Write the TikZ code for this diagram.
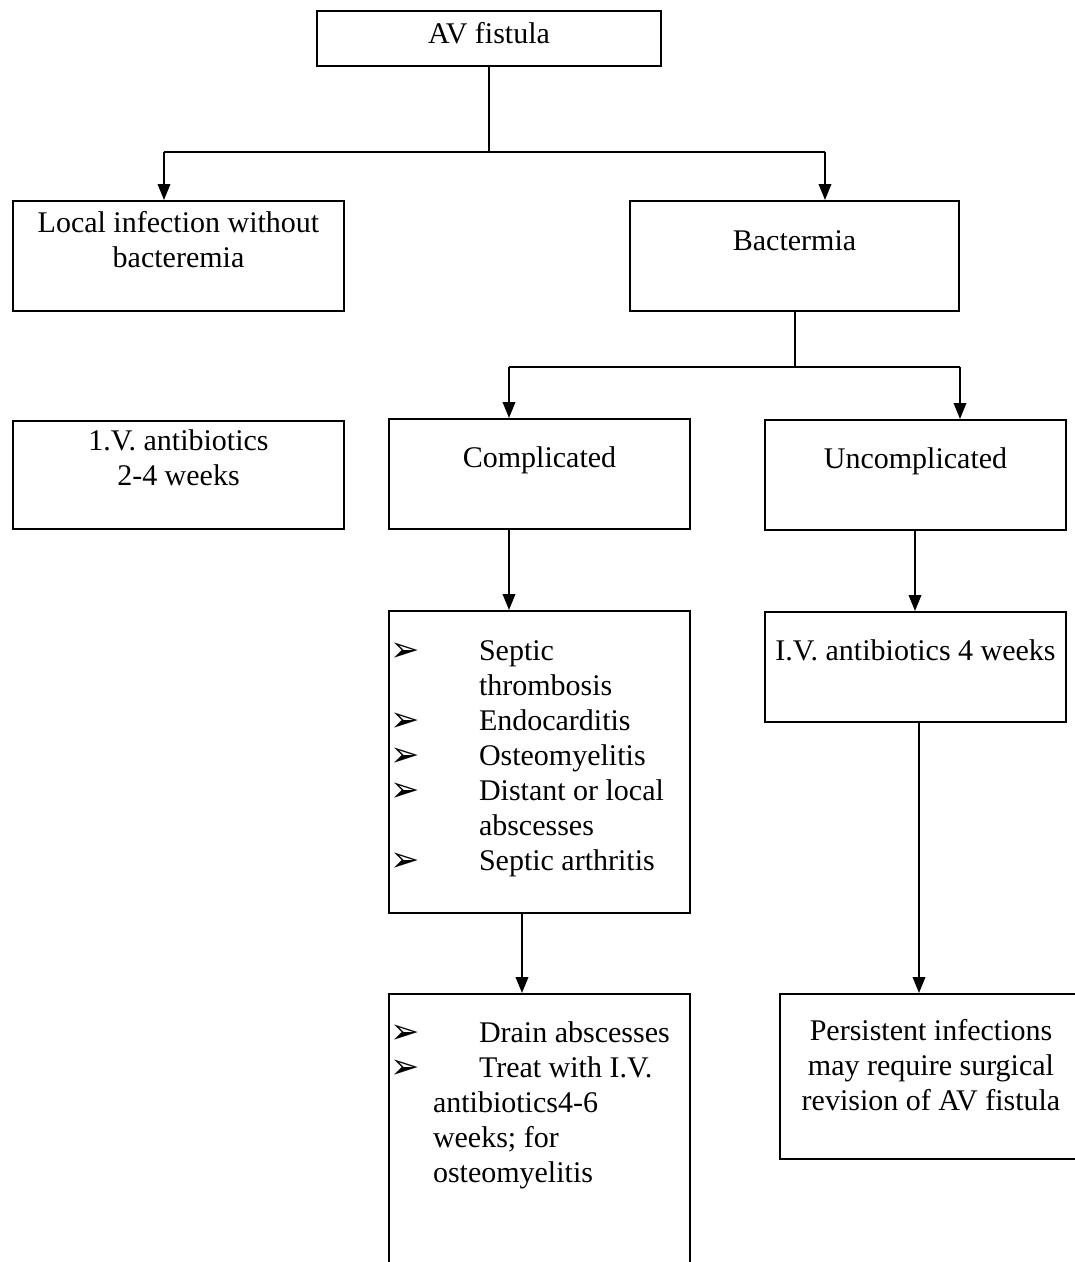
\documentclass[tikz,border=0pt]{standalone}
\usepackage{fontspec}
\setmainfont{Liberation Serif}
\newfontfamily\symfont{DejaVu Sans}
\usetikzlibrary{arrows.meta}

\newlength{\unitpx}\setlength{\unitpx}{0.4pt}
\newcommand{\bul}{{\symfont\fontsize{14}{14}\selectfont\raisebox{-0.5pt}{➢}}}
\newcommand{\boxtext}[4]{\parbox[c][#2\unitpx][t]{#1\unitpx}{\centering\rule{0pt}{#3\unitpx}#4}}
\newcommand{\listtext}[4]{\parbox[c][#2\unitpx][t]{#1\unitpx}{\raggedright\rule{0pt}{#3\unitpx}#4}}
\newcommand{\bitem}[1]{\makebox[90\unitpx][l]{\hspace*{1\unitpx}\bul}#1}

\begin{document}
\begin{tikzpicture}[x=0.4pt, y=-0.4pt,
    box/.style={draw, line width=0.8pt, inner sep=0pt, anchor=north west,
        font=\fontsize{12}{14}\selectfont},
    line/.style={line width=0.8pt},
    arrow/.style={line, -{Triangle[length=6.4pt,width=5pt]}}]
    \useasboundingbox (0,0) rectangle (1075,1262);

    % boxes
    \node[box] (av) at (316,10) {\boxtext{344}{55}{32}{AV fistula}};
    \node[box] (local) at (12,200) {\boxtext{331}{110}{31}{Local infection without\\ bacteremia}};
    \node[box] (bact) at (629,200) {\boxtext{329}{110}{49}{Bactermia}};
    \node[box] (iv) at (12,420) {\boxtext{331}{108}{29}{1.V. antibiotics\\ 2-4 weeks}};
    \node[box] (comp) at (388,418) {\boxtext{301}{110}{48}{Complicated}};
    \node[box] (uncomp) at (764,419) {\boxtext{301}{110}{48}{Uncomplicated}};
    \node[box] (list) at (388,610) {\listtext{301}{302}{49}{%
        \bitem{Septic}\\ \hspace*{90\unitpx}thrombosis\\
        \bitem{Endocarditis}\\
        \bitem{Osteomyelitis}\\
        \bitem{Distant or local}\\ \hspace*{90\unitpx}abscesses\\
        \bitem{Septic arthritis}}};
    \node[box] (ivfour) at (764,611) {\boxtext{301}{110}{48}{I.V. antibiotics 4 weeks}};
    \node[box] (drain) at (388,993) {\listtext{301}{280}{48}{%
        \bitem{Drain abscesses}\\
        \bitem{Treat with I.V.}\\ \hspace*{44\unitpx}antibiotics4-6\\
        \hspace*{44\unitpx}weeks; for\\ \hspace*{44\unitpx}osteomyelitis}};
    \node[box] (persist) at (779,993) {\boxtext{302}{165}{46}{Persistent infections\\ may require surgical\\ revision of AV fistula}};

    % branch points
    \coordinate (jl) at (164,152);
    \coordinate (jb) at (825,152);
    \coordinate (jc) at (509,367);
    \coordinate (ju) at (960,367);
    \coordinate (xc) at (509,0);
    \coordinate (xl) at (522,0);
    \coordinate (xu) at (915,0);
    \coordinate (xp) at (919,0);

    % connectors
    \draw[line] (av.south) -- (av.south |- jl);
    \draw[line] (jl) -- (jb);
    \draw[arrow] (jl) -- (jl |- local.north);
    \draw[arrow] (jb) -- (jb |- bact.north);
    \draw[line] (bact.south) -- (bact.south |- jc);
    \draw[line] (jc) -- (ju);
    \draw[arrow] (jc) -- (jc |- comp.north);
    \draw[arrow] (ju) -- (ju |- uncomp.north);
    \draw[arrow] (comp.south -| xc) -- (list.north -| xc);
    \draw[arrow] (list.south -| xl) -- (drain.north -| xl);
    \draw[arrow] (uncomp.south -| xu) -- (ivfour.north -| xu);
    \draw[arrow] (ivfour.south -| xp) -- (persist.north -| xp);
\end{tikzpicture}
\end{document}
